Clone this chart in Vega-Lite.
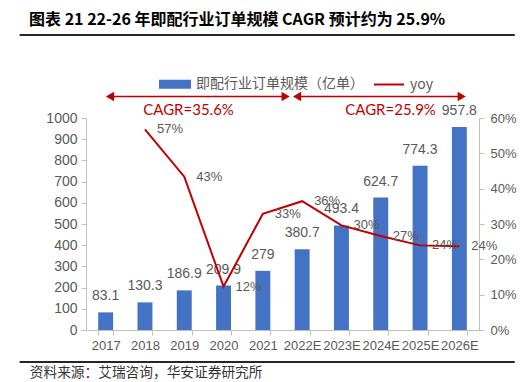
{
  "$schema": "https://vega.github.io/schema/vega-lite/v6.json",
  "width": 393,
  "height": 212,
  "autosize": {"type": "none"},
  "padding": {"left": 86, "top": 118, "right": 52, "bottom": 52},
  "background": "white",
  "config": {"view": {"stroke": null}, "font": "Noto Sans CJK SC"},
  "title": {
    "text": "图表 21 22-26 年即配行业订单规模 CAGR 预计约为 25.9%",
    "anchor": "start",
    "frame": "group",
    "dx": -57,
    "offset": 6,
    "fontSize": 16,
    "fontWeight": "bold",
    "font": "Noto Sans CJK SC",
    "color": "#000000"
  },
  "datasets": {
    "main": [
      {"year": "2017", "orders": 83.1, "yoy": null},
      {"year": "2018", "orders": 130.3, "yoy": 0.568},
      {"year": "2019", "orders": 186.9, "yoy": 0.434},
      {"year": "2020", "orders": 209.9, "yoy": 0.123},
      {"year": "2021", "orders": 279, "yoy": 0.329},
      {"year": "2022E", "orders": 380.7, "yoy": 0.3645},
      {"year": "2023E", "orders": 493.4, "yoy": 0.296},
      {"year": "2024E", "orders": 624.7, "yoy": 0.266},
      {"year": "2025E", "orders": 774.3, "yoy": 0.2395},
      {"year": "2026E", "orders": 957.8, "yoy": 0.237}
    ],
    "arrows": [
      {"start": 0.61, "end": 5.08, "level": 1101},
      {"start": 5.37, "end": 9.56, "level": 1101}
    ],
    "heads": [
      {"pos": 0.61, "level": 1101, "side": "left"},
      {"pos": 5.08, "level": 1101, "side": "right"},
      {"pos": 5.37, "level": 1101, "side": "left"},
      {"pos": 9.56, "level": 1101, "side": "right"}
    ],
    "cagr": [
      {"pos": 2.61, "level": 1038, "label": "CAGR=35.6%"},
      {"pos": 7.75, "level": 1038, "label": "CAGR=25.9%"}
    ],
    "seps": [
      {"start": -1.69, "end": 10.91, "level": 1391.5},
      {"start": -1.69, "end": 10.91, "level": -151}
    ],
    "source": [
      {"pos": -1.43, "level": -203, "label": "资料来源：艾瑞咨询，华安证券研究所"}
    ]
  },
  "layer": [
    {
      "data": {"name": "main"},
      "encoding": {
        "x": {
          "field": "year",
          "type": "ordinal",
          "sort": null,
          "scale": {
            "domain": ["2017", "2018", "2019", "2020", "2021", "2022E", "2023E", "2024E", "2025E", "2026E"],
            "paddingInner": 0.62,
            "paddingOuter": 0.31
          },
          "axis": {
            "title": null,
            "tickBand": "extent",
            "labelAngle": 0,
            "labelFont": "Liberation Sans",
            "labelFontSize": 13,
            "labelColor": "#595959",
            "domainColor": "#BFBFBF",
            "tickColor": "#BFBFBF",
            "tickSize": 5,
            "labelPadding": 4,
            "labelOverlap": false
          }
        },
        "y": {
          "field": "orders",
          "type": "quantitative",
          "scale": {"domain": [0, 1000]},
          "axis": {
            "title": null,
            "format": "d",
            "values": [0, 100, 200, 300, 400, 500, 600, 700, 800, 900, 1000],
            "grid": false,
            "labelFont": "Liberation Sans",
            "labelFontSize": 14,
            "labelColor": "#595959",
            "domainColor": "#BFBFBF",
            "tickColor": "#BFBFBF",
            "tickSize": 5,
            "labelPadding": 4
          }
        }
      },
      "layer": [
        {
          "mark": {"type": "bar"},
          "encoding": {
            "color": {
              "datum": "即配行业订单规模（亿单）",
              "type": "nominal",
              "scale": {
                "domain": ["即配行业订单规模（亿单）", "yoy"],
                "range": ["#4472C4", "#C00000"]
              },
              "legend": {
                "orient": "none",
                "legendX": 73,
                "legendY": -50,
                "direction": "horizontal",
                "title": null,
                "symbolSize": 900,
                "labelFont": "Noto Sans CJK SC",
                "labelFontSize": 14,
                "labelColor": "#595959",
                "labelOffset": 5,
                "columnPadding": 6,
                "padding": 0,
                "labelLimit": 300,
                "encode": {
                  "symbols": {
                    "update": {
                      "shape": {"signal": "datum.value === 'yoy' ? 'M-1,0H1' : 'M-1,-0.23H1V0.23H-1Z'"},
                      "fill": {"signal": "datum.value === 'yoy' ? 'transparent' : '#4472C4'"},
                      "stroke": {"signal": "datum.value === 'yoy' ? '#C00000' : 'transparent'"},
                      "strokeWidth": {"value": 2},
                      "opacity": {"value": 1},
                      "fillOpacity": {"value": 1}
                    }
                  }
                }
              }
            }
          }
        },
        {
          "mark": {"type": "text", "dy": -16, "baseline": "middle", "fontSize": 14, "font": "Liberation Sans", "color": "#595959"},
          "encoding": {"text": {"field": "orders", "type": "quantitative"}}
        }
      ]
    },
    {
      "data": {"name": "main"},
      "transform": [{"filter": "datum.yoy != null"}],
      "encoding": {
        "x": {
          "field": "year",
          "type": "ordinal",
          "sort": null,
          "scale": {"domain": ["2017", "2018", "2019", "2020", "2021", "2022E", "2023E", "2024E", "2025E", "2026E"]},
          "axis": null
        },
        "y": {
          "field": "yoy",
          "type": "quantitative",
          "scale": {"domain": [0, 0.6]},
          "axis": {
            "orient": "right",
            "title": null,
            "format": ".0%",
            "values": [0, 0.1, 0.2, 0.3, 0.4, 0.5, 0.6],
            "grid": false,
            "labelFont": "Liberation Sans",
            "labelFontSize": 13,
            "labelColor": "#595959",
            "domainColor": "#BFBFBF",
            "tickColor": "#BFBFBF",
            "tickSize": 5,
            "labelPadding": 6
          }
        }
      },
      "layer": [
        {
          "mark": {"type": "line", "strokeWidth": 2},
          "encoding": {"color": {"datum": "yoy", "type": "nominal"}}
        },
        {
          "mark": {"type": "text", "dx": 25, "baseline": "middle", "fontSize": 13, "font": "Liberation Sans", "color": "#595959"},
          "encoding": {"text": {"field": "yoy", "type": "quantitative", "format": ".0%"}}
        }
      ]
    },
    {
      "layer": [
        {
          "data": {"name": "arrows"},
          "mark": {"type": "rule", "color": "#C00000", "strokeWidth": 1.5},
          "encoding": {
            "x": {"field": "start", "type": "quantitative", "scale": {"domain": [0, 10]}, "axis": null},
            "x2": {"field": "end"},
            "y": {"field": "level", "type": "quantitative", "scale": {"domain": [0, 1000]}, "axis": null}
          }
        },
        {
          "data": {"name": "heads"},
          "mark": {"type": "point", "filled": true, "opacity": 1, "color": "#C00000", "size": 90},
          "encoding": {
            "x": {"field": "pos", "type": "quantitative", "scale": {"domain": [0, 10]}, "axis": null},
            "y": {"field": "level", "type": "quantitative", "scale": {"domain": [0, 1000]}, "axis": null},
            "shape": {"field": "side", "type": "nominal", "scale": {"domain": ["left", "right"], "range": ["triangle-left", "triangle-right"]}, "legend": null}
          }
        },
        {
          "data": {"name": "cagr"},
          "mark": {"type": "text", "font": "Lato", "fontSize": 15, "color": "#C00000", "align": "center", "baseline": "middle"},
          "encoding": {
            "x": {"field": "pos", "type": "quantitative", "scale": {"domain": [0, 10]}, "axis": null},
            "y": {"field": "level", "type": "quantitative", "scale": {"domain": [0, 1000]}, "axis": null},
            "text": {"field": "label"}
          }
        },
        {
          "data": {"name": "source"},
          "mark": {"type": "text", "font": "Noto Sans CJK SC", "fontSize": 13.7, "color": "#333333", "align": "left", "baseline": "middle"},
          "encoding": {
            "x": {"field": "pos", "type": "quantitative", "scale": {"domain": [0, 10]}, "axis": null},
            "y": {"field": "level", "type": "quantitative", "scale": {"domain": [0, 1000]}, "axis": null},
            "text": {"field": "label"}
          }
        }
      ]
    },
    {
      "data": {"name": "seps"},
      "mark": {"type": "rule", "color": "#262626", "strokeWidth": 2, "opacity": 1},
      "encoding": {
        "x": {"field": "start", "type": "quantitative", "scale": {"domain": [0, 10]}, "axis": null},
        "x2": {"field": "end"},
        "y": {"field": "level", "type": "quantitative", "scale": {"domain": [0, 1000]}, "axis": null}
      }
    }
  ],
  "resolve": {"scale": {"x": "independent", "y": "independent"}}
}
